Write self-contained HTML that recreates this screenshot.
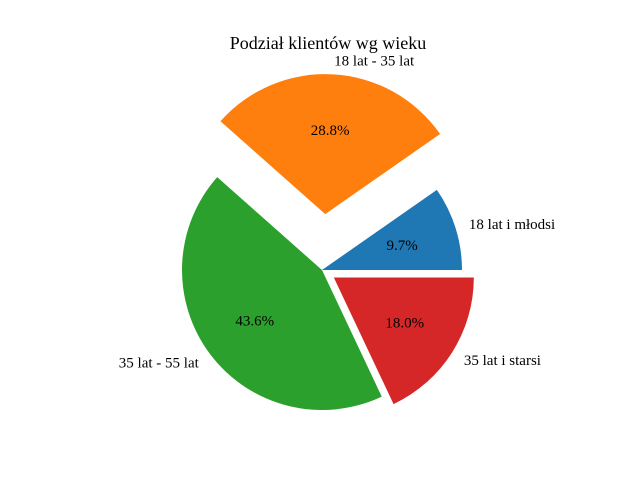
<!DOCTYPE html>
<html><head><meta charset="utf-8"><style>
body{margin:0;background:#fff}
svg text{font-family:"Liberation Serif",serif;fill:#000}
</style></head><body>
<svg id="chart" width="640" height="480" viewBox="0 0 640 480" xmlns="http://www.w3.org/2000/svg">
<rect width="640" height="480" fill="#fff"/>
<text x="328" y="49" text-anchor="middle" font-size="18">Podział klientów wg wieku</text>
<g id="slices"></g>
</svg>
<script>
const categories = ["18 lat i młodsi", "18 lat - 35 lat", "35 lat - 55 lat", "35 lat i starsi"];
const values = [9.7, 28.8, 43.6, 18.0];
const explode = [0, 0.4, 0, 0.1];
const colors = ["#1f77b4", "#ff7f0e", "#2ca02c", "#d62728"];
const cx = 322, cy = 270, R = 140;
const ns = "http://www.w3.org/2000/svg";
const g = document.getElementById("slices");
const total = values.reduce((a, b) => a + b, 0);
let start = 0;
values.forEach((v, i) => {
  const a0 = start, a1 = start + v / total * 360; start = a1;
  const mid = (a0 + a1) / 2 * Math.PI / 180;
  const ox = cx + explode[i] * R * Math.cos(mid), oy = cy - explode[i] * R * Math.sin(mid);
  const p = a => [ox + R * Math.cos(a * Math.PI / 180), oy - R * Math.sin(a * Math.PI / 180)];
  const [x0, y0] = p(a0), [x1, y1] = p(a1);
  const large = (a1 - a0) > 180 ? 1 : 0;
  const path = document.createElementNS(ns, "path");
  path.setAttribute("d", `M${ox},${oy} L${x0},${y0} A${R},${R} 0 ${large} 0 ${x1},${y1} Z`);
  path.setAttribute("fill", colors[i]);
  
  
  g.appendChild(path);
  const lx = ox + 1.1 * R * Math.cos(mid), ly = oy - 1.1 * R * Math.sin(mid);
  const t = document.createElementNS(ns, "text");
  t.setAttribute("x", lx); t.setAttribute("y", ly + 5);
  t.setAttribute("font-size", "15");
  t.setAttribute("text-anchor", Math.cos(mid) >= 0 ? "start" : "end");
  t.textContent = categories[i];
  
  
  g.appendChild(t);
  const px = ox + 0.6 * R * Math.cos(mid), py = oy - 0.6 * R * Math.sin(mid);
  const pt = document.createElementNS(ns, "text");
  pt.setAttribute("x", px); pt.setAttribute("y", py + 5);
  pt.setAttribute("font-size", "15");
  pt.setAttribute("text-anchor", "middle");
  pt.textContent = (v / total * 100).toFixed(1) + "%";
  
  
  g.appendChild(pt);
});
</script>
</body></html>
